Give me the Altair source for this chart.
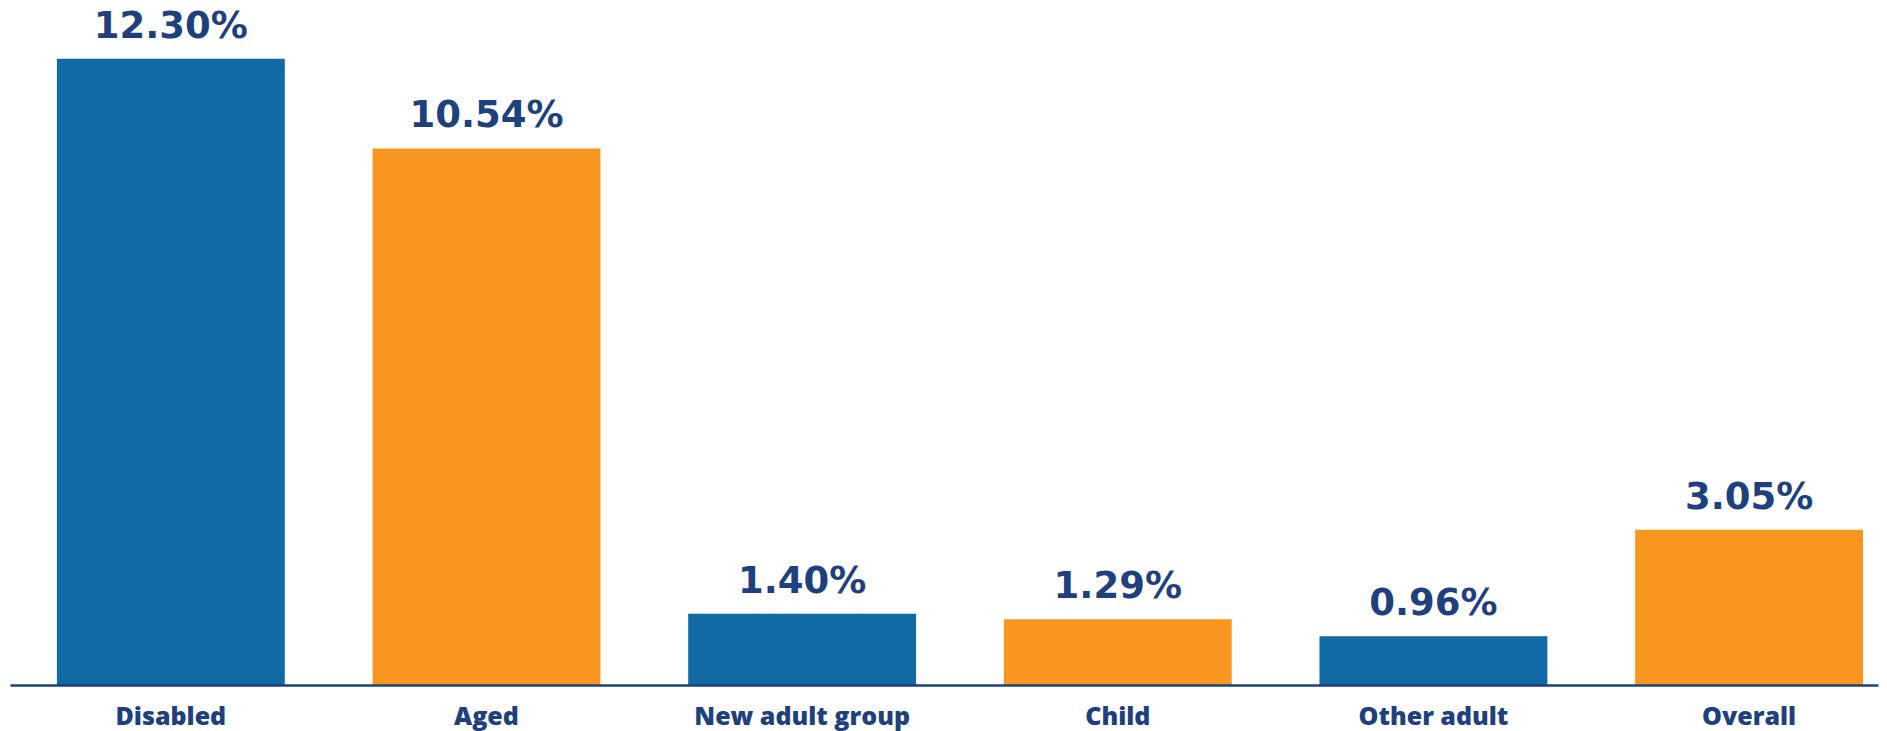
import altair as alt
import pandas as pd

categories = ["Disabled", "Aged", "New adult group", "Child", "Other adult", "Overall"]
values = [12.30, 10.54, 1.40, 1.29, 0.96, 3.05]
color_groups = ["blue", "orange", "blue", "orange", "blue", "orange"]

NAVY = "#1e407c"
BLUE = "#126aa4"
ORANGE = "#f79720"

df = pd.DataFrame({
    "category": categories,
    "value": values,
    "group": color_groups,
    "label": [f"{v:.2f}%" for v in values],
})

x = alt.X(
    "category:N",
    sort=categories,
    scale=alt.Scale(paddingInner=0.278, paddingOuter=0.098, align=0.758),
    axis=alt.Axis(
        title=None,
        labelAngle=0,
        ticks=False,
        domainColor=NAVY,
        domainWidth=2.5,
        labelFont="Open Sans",
        labelFontWeight=800,
        labelFontSize=25,
        labelColor=NAVY,
        labelPadding=19,
        labelLimit=0,
        zindex=1,
    ),
)
y = alt.Y("value:Q", scale=alt.Scale(domain=[0, 13.26]), axis=None)

base = alt.Chart(df).encode(x=x, y=y)

bars = base.mark_bar().encode(
    color=alt.Color(
        "group:N",
        scale=alt.Scale(domain=["blue", "orange"], range=[BLUE, ORANGE]),
        legend=None,
    )
)

text = base.mark_text(
    baseline="alphabetic",
    dy=-21,
    font="DejaVu Sans",
    fontWeight="bold",
    fontSize=37,
    color=NAVY,
).encode(text="label:N")

chart = (
    alt.layer(bars, text)
    .properties(
        width=1868,
        height=675,
        autosize=alt.AutoSizeParams(type="none"),
        padding={"left": 2, "top": 2, "right": 1, "bottom": 46},
    )
    .configure_view(stroke=None)
)

chart.save("out.html", embed_options={"renderer": "svg", "actions": False})
